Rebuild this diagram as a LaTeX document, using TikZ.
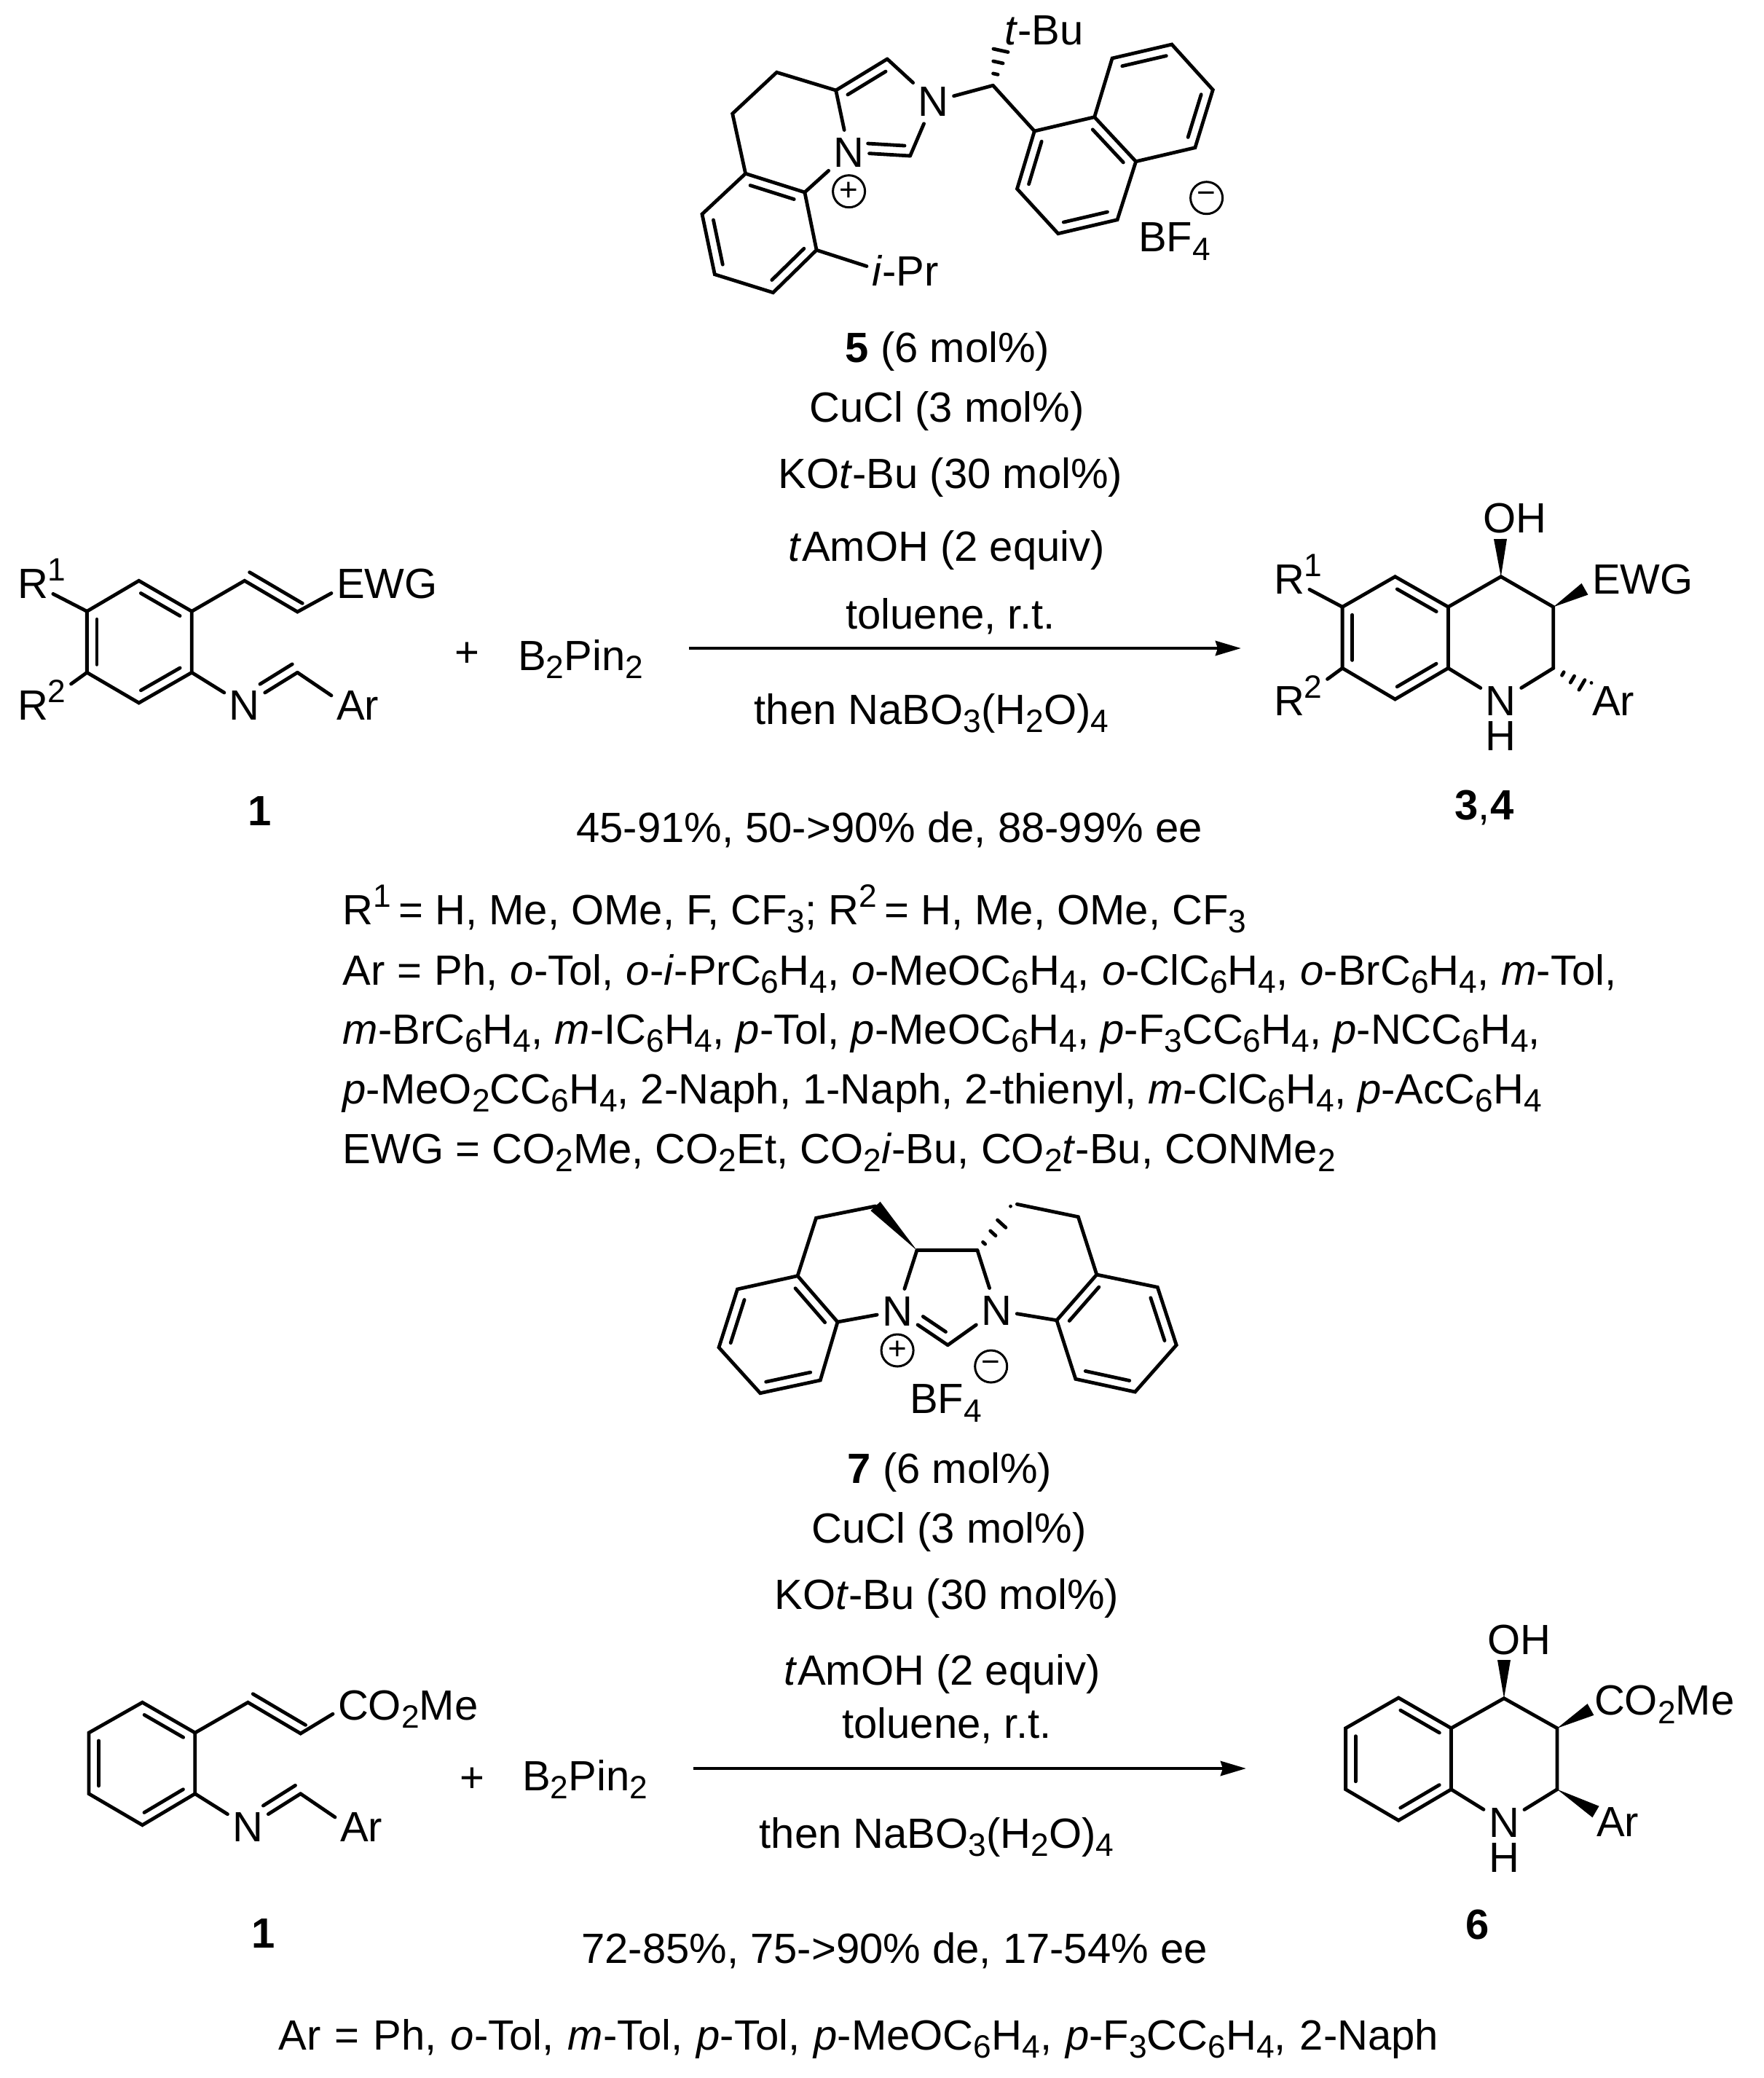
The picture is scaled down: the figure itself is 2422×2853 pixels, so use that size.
\documentclass[tikz,border=0pt]{standalone}
\usepackage{fontspec}
\setmainfont{Liberation Sans}
\usepackage{tikz}
\usetikzlibrary{arrows.meta,calc}

\newcommand{\sbs}[1]{\raisebox{-3.4pt}{\fontsize{12.6}{14}\selectfont #1}}
\newcommand{\sps}[1]{\raisebox{6.8pt}{\fontsize{12.6}{14}\selectfont #1}}
\newcommand{\widesp}[1]{\spaceskip=#1\fontdimen2\font\relax}
\newcommand{\dblx}[4]{\draw[bond] ($(#3)!#1!(#4)!0.135cm!-90:(#4)$) -- ($(#4)!#2!(#3)!0.135cm!90:(#3)$);}
\newcommand{\dbl}[2]{\dblx{.13}{.13}{#1}{#2}}
\newcommand{\wedgebond}[2]{\fill (#1) -- ($(#2)!0.09cm!90:(#1)$) -- ($(#2)!0.09cm!-90:(#1)$) -- cycle;}
\newcommand{\hashbond}[3]{\foreach \t in {#3} \draw[bond] ($(#1)!\t!(#2)!\t*0.105cm!90:(#2)$) -- ($(#1)!\t!(#2)!\t*0.105cm!-90:(#2)$);}

\tikzset{
    bond/.style={line width=0.048cm, line cap=round},
    atom/.style={inner xsep=0.07cm, inner ysep=0.1cm, outer sep=0pt, text height=0.41cm, text depth=0pt},
    lbl/.style={atom, anchor=west},
    txt/.style={inner sep=0pt, anchor=base},
    txtl/.style={inner sep=0pt, anchor=base west},
    charge/.style={circle, draw, line width=0.03cm, inner sep=0pt, minimum size=0.44cm, font=\fontsize{12.5}{14}\selectfont},
    rxn/.style={line width=0.047cm, -{Stealth[length=0.35cm, width=0.2cm, inset=0.03cm]}},
    every node/.append style={font=\fontsize{16.5}{20}\selectfont}
}

\begin{document}
\begin{tikzpicture}[x=0.01cm, y=-0.01cm]
    \useasboundingbox (0,0) rectangle (2422,2853);

    % catalyst 5
    \foreach \n/\x/\y in {ca1/1023.6/238.3, ca2/1104.9/264, ca3/1121.1/343.3, ca4/1061.5/401.7, ca5/981.3/376.7, ca6/964/294,
        cb1/1005.7/156, cb2/1066.4/99.3, cb3/1147.7/124, cb4/1218.2/81, cb5/1249.6/214, cc/1363.4/117.3, cd/1374.2/68.3,
        na1/1420.3/180, na2/1502.7/160.7, na3/1559.6/221.7, na4/1534.1/301.7, na5/1452.8/320.7, na6/1396.5/259.3,
        nb1/1527.1/80, nb2/1608.9/61, nb3/1665.3/123.3, nb4/1640.9/202.7}
        \coordinate (\n) at (\x,\y);
    \node[atom] (cN1) at (1165.6,209) {N};
    \node[atom] (cN2) at (1281.6,139.3) {N};
    \node[lbl] (ctBu) at (1372,41) {\textit{t}-Bu};
    \node[lbl] (ciPr) at (1190,372) {\textit{i}-Pr};
    \node[lbl] (cBF) at (1556,325) {BF\sbs{4}};
    \node[charge] (cplus) at (1165.6,262.7) {+};
    \node[charge] (cminus) at (1656.6,271.7) {−};
    \draw[bond] (ca1) -- (ca2) -- (ca3) -- (ca4) -- (ca5) -- (ca6) -- cycle;
    \draw[bond] (ca1) -- (cb1) -- (cb2) -- (cb3) -- (cb4);
    \draw[bond] (ca2) -- (cN1);
    \draw[bond] (cb3) -- (cN1);
    \draw[bond] (cN1) -- (cb5);
    \draw[bond] (cb5) -- (cN2);
    \draw[bond] (cb4) -- (cN2);
    \draw[bond] (cN2) -- (cc);
    \draw[bond] (cc) -- (na1);
    \draw[bond] (ca3) -- (ciPr.173);
    \draw[bond] (na1) -- (na2) -- (na3) -- (na4) -- (na5) -- (na6) -- cycle;
    \draw[bond] (na2) -- (nb1) -- (nb2) -- (nb3) -- (nb4) -- (na3);
    \dbl{ca1}{ca2} \dbl{ca3}{ca4} \dbl{ca5}{ca6}
    \dbl{cb3}{cb4}
    \dblx{.1}{.3}{cb5}{cN1}
    \dbl{na2}{na3} \dbl{na4}{na5} \dbl{na6}{na1}
    \dbl{nb1}{nb2} \dbl{nb3}{nb4}
    \hashbond{cc}{cd}{.32,.65,.98}

    % conditions, first reaction
    \node[txt] (ta1) at (1301,497) {\textbf{5} (6 mol\%)};
    \node[txt] (ta2) at (1300,579) {CuCl (3 mol\%)};
    \node[txt] (ta3) at (1305,670) {KO\textit{t}-Bu (30 mol\%)};
    \node[txt] (ta4) at (1300,770) {\textit{t}AmOH (2 equiv)};
    \node[txt] (ta5) at (1305,863) {toluene, r.t.};
    \node[txt] (ta6) at (1279,994) {then NaBO\sbs{3}(H\sbs{2}O)\sbs{4}};
    \node[txt] (ta7) at (1221,1156) {45-91\%, 50->90\% de, 88-99\% ee};
    \coordinate (arA1) at (946,890);
    \coordinate (arA2) at (1704,890);
    \draw[rxn] (arA1) -- (arA2);

    % substrate 1
    \foreach \n/\x/\y in {r1/119.4/839.3, r2/190.7/797.3, r3/263.3/839.3, r4/263.3/923.3, r5/190.7/965, r6/119.4/923.3,
        rv1/335.8/797.3, rv2/408.4/840, ri/408.4/923.3}
        \coordinate (\n) at (\x,\y);
    \node[lbl] (rA) at (17,801) {R\rlap{\sps{1}}};
    \node[lbl] (rB) at (17,968) {R\sps{2}};
    \node[lbl] (rEWG) at (455,801) {EWG};
    \node[atom] (rN) at (335.8,968.3) {N};
    \node[lbl] (rAr) at (455,968) {Ar};
    \draw[bond] (r1) -- (r2) -- (r3) -- (r4) -- (r5) -- (r6) -- cycle;
    \draw[bond] (r3) -- (rv1) -- (rv2) -- (rEWG.190);
    \draw[bond] (r1) -- (rA);
    \draw[bond] (r6) -- (rB);
    \draw[bond] (r4) -- (rN);
    \draw[bond] (rN) -- (ri);
    \draw[bond] (ri) -- (rAr.160);
    \dbl{r2}{r3} \dbl{r4}{r5} \dbl{r6}{r1}
    \dblx{0}{0}{rv2}{rv1}
    \dblx{0}{.39}{ri}{rN}
    \node[txt] (rlabel) at (356.7,1133) {\textbf{1}};
    \node[txt] (plusA) at (641.6,915) {+};
    \node[txt] (pinA) at (797,920) {B\sbs{2}Pin\sbs{2}};

    % product 3,4
    \foreach \n/\x/\y in {p1/1843.1/833.3, p2/1915.5/791.7, p3/1988.4/833.3, p4/1988.4/917.3, p5/1915.5/960, p6/1843.1/917.3,
        pc4/2060.8/791.7, pc3/2132.8/833.3, pc2/2132.8/917.3, pOHe/2060/740, pEWGe/2176/808.7, pAre/2185/948}
        \coordinate (\n) at (\x,\y);
    \node[atom] (pOH) at (2080,711) {OH};
    \node[lbl] (pA) at (1742,794.5) {R\rlap{\sps{1}}};
    \node[lbl] (pB) at (1742,962) {R\sps{2}};
    \node[lbl] (pEWG) at (2179,794.5) {EWG};
    \node[lbl] (pAr) at (2179,962) {Ar};
    \node[atom] (pN) at (2060.8,961.7) {N};
    \node[atom] (pH) at (2060.8,1010) {H};
    \draw[bond] (p1) -- (p2) -- (p3) -- (p4) -- (p5) -- (p6) -- cycle;
    \draw[bond] (p3) -- (pc4) -- (pc3) -- (pc2);
    \draw[bond] (p4) -- (pN);
    \draw[bond] (pc2) -- (pN);
    \draw[bond] (p1) -- (pA);
    \draw[bond] (p6) -- (pB);
    \dbl{p2}{p3} \dbl{p4}{p5} \dbl{p6}{p1}
    \wedgebond{pc4}{pOHe}
    \wedgebond{pc3}{pEWGe}
    \hashbond{pc2}{pAre}{.25,.5,.75,1}
    \node[txt] (plabel) at (2038,1125) {\textbf{3},\textbf{4}};

    % scope lists
    \node[txtl] (la1) at (470,1269) {R\sps{1}\kern-0.06cm{} = H, Me, OMe, F, CF\sbs{3}; R\sps{2}\kern-0.06cm{} = H, Me, OMe, CF\sbs{3}};
    \node[txtl] (la2) at (470,1352) {\widesp{1.06}Ar = Ph, \textit{o}-Tol, \textit{o}-\textit{i}-PrC\sbs{6}H\sbs{4}, \textit{o}-MeOC\sbs{6}H\sbs{4}, \textit{o}-ClC\sbs{6}H\sbs{4}, \textit{o}-BrC\sbs{6}H\sbs{4}, \textit{m}-Tol,};
    \node[txtl] (la3) at (470,1433) {\textit{m}-BrC\sbs{6}H\sbs{4}, \textit{m}-IC\sbs{6}H\sbs{4}, \textit{p}-Tol, \textit{p}-MeOC\sbs{6}H\sbs{4}, \textit{p}-F\sbs{3}CC\sbs{6}H\sbs{4}, \textit{p}-NCC\sbs{6}H\sbs{4},};
    \node[txtl] (la4) at (470,1515) {\textit{p}-MeO\sbs{2}CC\sbs{6}H\sbs{4}, 2-Naph, 1-Naph, 2-thienyl, \textit{m}-ClC\sbs{6}H\sbs{4}, \textit{p}-AcC\sbs{6}H\sbs{4}};
    \node[txtl] (la5) at (470,1597) {EWG = CO\sbs{2}Me, CO\sbs{2}Et, CO\sbs{2}\textit{i}-Bu, CO\sbs{2}\textit{t}-Bu, CONMe\sbs{2}};

    % catalyst 7
    \foreach \n/\x/\y in {l1/1095.1/1751.7, l2/1150/1815, l3/1126.3/1895, l4/1043.8/1912.7, l5/987/1850, l6/1012.5/1770,
        lh1/1120.5/1672.3, lh2/1202/1656, lc/1258.9/1716.7, rc/1342/1716.7, mc/1301.3/1846.7,
        rh1/1396.4/1653.3, rh2/1480.4/1670.7, rhe/1387.5/1666.7,
        m1/1505.8/1750, m2/1450.9/1812.7, m3/1476.8/1893.3, m4/1558.5/1911, m5/1615.2/1846.7, m6/1589.3/1767.3}
        \coordinate (\n) at (\x,\y);
    \node[atom] (lN) at (1232.1,1800) {N};
    \node[atom] (mN) at (1368.3,1799) {N};
    \node[charge] (lplus) at (1232.1,1854) {+};
    \node[charge] (lminus) at (1360.7,1876) {−};
    \node[lbl] (lBF) at (1242,1920) {BF\sbs{4}};
    \draw[bond] (l1) -- (l2) -- (l3) -- (l4) -- (l5) -- (l6) -- cycle;
    \draw[bond] (l1) -- (lh1) -- (lh2);
    \draw[bond] (lc) -- (rc);
    \draw[bond] (l2) -- (lN);
    \draw[bond] (lc) -- (lN);
    \draw[bond] (lN) -- (mc);
    \draw[bond] (mc) -- (mN);
    \draw[bond] (rc) -- (mN);
    \draw[bond] (mN) -- (m2);
    \draw[bond] (m1) -- (m2) -- (m3) -- (m4) -- (m5) -- (m6) -- cycle;
    \draw[bond] (m1) -- (rh2) -- (rh1);
    \dbl{l1}{l2} \dbl{l3}{l4} \dbl{l5}{l6}
    \dbl{m2}{m1} \dbl{m6}{m5} \dbl{m4}{m3}
    \dblx{.15}{.4}{mc}{lN}
    \wedgebond{lc}{lh2}
    \hashbond{rc}{rhe}{.2,.47,.73,1}

    % conditions, second reaction
    \node[txt] (tb1) at (1304,2036) {\textbf{7} (6 mol\%)};
    \node[txt] (tb2) at (1303,2118) {CuCl (3 mol\%)};
    \node[txt] (tb3) at (1300,2209) {KO\textit{t}-Bu (30 mol\%)};
    \node[txt] (tb4) at (1294,2313) {\textit{t}AmOH (2 equiv)};
    \node[txt] (tb5) at (1300,2386) {toluene, r.t.};
    \node[txt] (tb6) at (1286,2537) {then NaBO\sbs{3}(H\sbs{2}O)\sbs{4}};
    \node[txt] (tb7) at (1228,2695) {72-85\%, 75->90\% de, 17-54\% ee};
    \node[txt] (tb8) at (1179,2814) {\widesp{1.18}Ar = Ph, \textit{o}-Tol, \textit{m}-Tol, \textit{p}-Tol, \textit{p}-MeOC\sbs{6}H\sbs{4}, \textit{p}-F\sbs{3}CC\sbs{6}H\sbs{4}, 2-Naph};
    \coordinate (arB1) at (952,2428);
    \coordinate (arB2) at (1711,2428);
    \draw[rxn] (arB1) -- (arB2);

    % substrate 1, second reaction
    \foreach \n/\x/\y in {s1/122/2379, s2/195.5/2337.3, s3/267.8/2379, s4/267.8/2462.7, s5/195.5/2505.7, s6/122/2462.7,
        sv1/340.4/2337.3, sv2/412.7/2380, si/412.7/2462.7}
        \coordinate (\n) at (\x,\y);
    \node[lbl] (sCO) at (457,2340.5) {CO\sbs{2}Me};
    \node[atom] (sN) at (340.4,2508.3) {N};
    \node[lbl] (sAr) at (460,2508) {Ar};
    \draw[bond] (s1) -- (s2) -- (s3) -- (s4) -- (s5) -- (s6) -- cycle;
    \draw[bond] (s3) -- (sv1) -- (sv2) -- (sCO.187);
    \draw[bond] (s4) -- (sN);
    \draw[bond] (sN) -- (si);
    \draw[bond] (si) -- (sAr.160);
    \dbl{s2}{s3} \dbl{s4}{s5} \dbl{s6}{s1}
    \dblx{0}{0}{sv2}{sv1}
    \dblx{0}{.39}{si}{sN}
    \node[txt] (slabel) at (361.6,2674) {\textbf{1}};
    \node[txt] (plusB) at (648.3,2460) {+};
    \node[txt] (pinB) at (803,2458) {B\sbs{2}Pin\sbs{2}};

    % product 6
    \foreach \n/\x/\y in {t1/1847.6/2372.7, t2/1920.2/2331, t3/1992.5/2372.7, t4/1992.5/2456.7, t5/1920.2/2499.3, t6/1847.6/2456.7,
        tc4/2065/2331.7, tc3/2138/2372.7, tc2/2138/2456.7, tOHe/2065/2279, tCOe/2184/2347, tAre/2191/2487.5}
        \coordinate (\n) at (\x,\y);
    \node[atom] (tOH) at (2085.7,2250.5) {OH};
    \node[lbl] (tCO) at (2182,2334) {CO\sbs{2}Me};
    \node[lbl] (tAr) at (2185,2501) {Ar};
    \node[atom] (tN) at (2065,2501.7) {N};
    \node[atom] (tH) at (2065,2550) {H};
    \draw[bond] (t1) -- (t2) -- (t3) -- (t4) -- (t5) -- (t6) -- cycle;
    \draw[bond] (t3) -- (tc4) -- (tc3) -- (tc2);
    \draw[bond] (t4) -- (tN);
    \draw[bond] (tc2) -- (tN);
    \dbl{t2}{t3} \dbl{t4}{t5} \dbl{t6}{t1}
    \wedgebond{tc4}{tOHe}
    \wedgebond{tc3}{tCOe}
    \wedgebond{tc2}{tAre}
    \node[txt] (tlabel) at (2029,2662) {\textbf{6}};
\end{tikzpicture}
\end{document}
